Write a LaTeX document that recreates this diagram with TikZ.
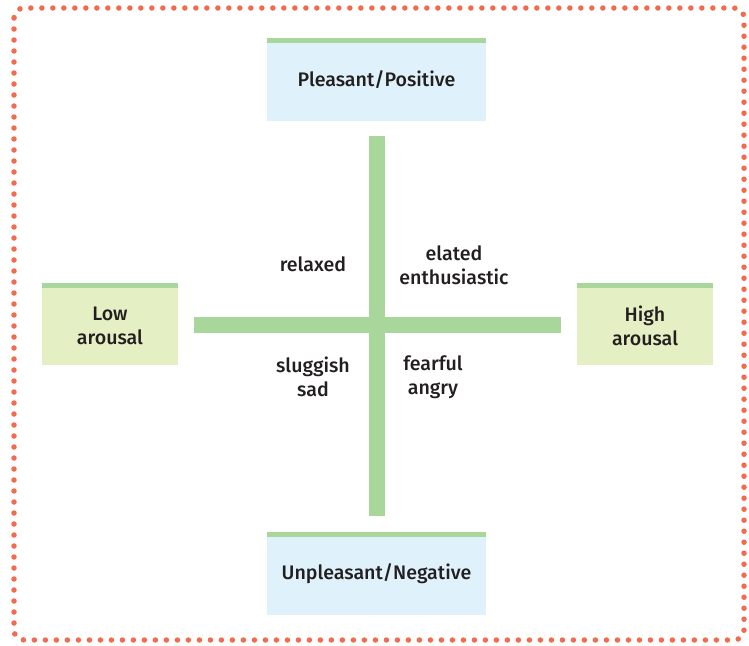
\documentclass[tikz,border=0pt]{standalone}
\usepackage{fontspec}
\setmainfont{Fira Sans Medium}
\definecolor{dotc}{HTML}{F26B4F}
\definecolor{barc}{HTML}{A9D69B}
\definecolor{bluebox}{HTML}{DFF2FC}
\definecolor{greenbox}{HTML}{E5EFC4}
\definecolor{txt}{HTML}{231F20}
\tikzset{
  px/.style={x=1pt,y=-1pt},
  vbox/.style={fill=bluebox, minimum width=219pt, minimum height=83pt, inner sep=0pt, align=center, font=\fontsize{19.6}{24}\selectfont, text=txt},
  hbox/.style={fill=greenbox, minimum width=136pt, minimum height=82pt, inner sep=0pt, align=center, font=\fontsize{19.6}{24}\selectfont, text=txt},
  lbl/.style={align=center, inner sep=0pt, font=\fontsize{19.6}{24}\selectfont, text=txt},
}
\begin{document}
\begin{tikzpicture}[px]
\useasboundingbox (0,0) rectangle (749,645);
% border
\draw[dotc, line width=5.5pt, line cap=round, dash pattern=on 0pt off 11pt, rounded corners=10pt] (14,8) rectangle (744,640);
% bars
\fill[barc] (369,136) rectangle (385,516);
\fill[barc] (194,317) rectangle (561,333);
% boxes
\node[vbox] (top) at (376.5,79.5) {Pleasant/Positive};
\fill[barc] (top.north west) rectangle ([yshift=-5pt]top.north east);
\node[vbox] (bot) at (376.5,573.5) {Unpleasant/Negative};
\fill[barc] (bot.north west) rectangle ([yshift=-5pt]bot.north east);
\node[hbox] (left) at (110,324) {};
\fill[barc] (left.north west) rectangle ([yshift=-5pt]left.north east);
\node[lbl] (lefttext) at (110,326) {Low\\arousal};
\node[hbox] (right) at (645,324) {};
\fill[barc] (right.north west) rectangle ([yshift=-5pt]right.north east);
\node[lbl] (righttext) at (645,326) {High\\arousal};
% labels
\node[lbl] (relaxed) at (313,264) {relaxed};
\node[lbl] (elated) at (454,265) {elated\\enthusiastic};
\node[lbl] (sluggish) at (313,377) {sluggish\\sad};
\node[lbl] (fearful) at (433,377) {fearful\\angry};
\end{tikzpicture}
\end{document}
